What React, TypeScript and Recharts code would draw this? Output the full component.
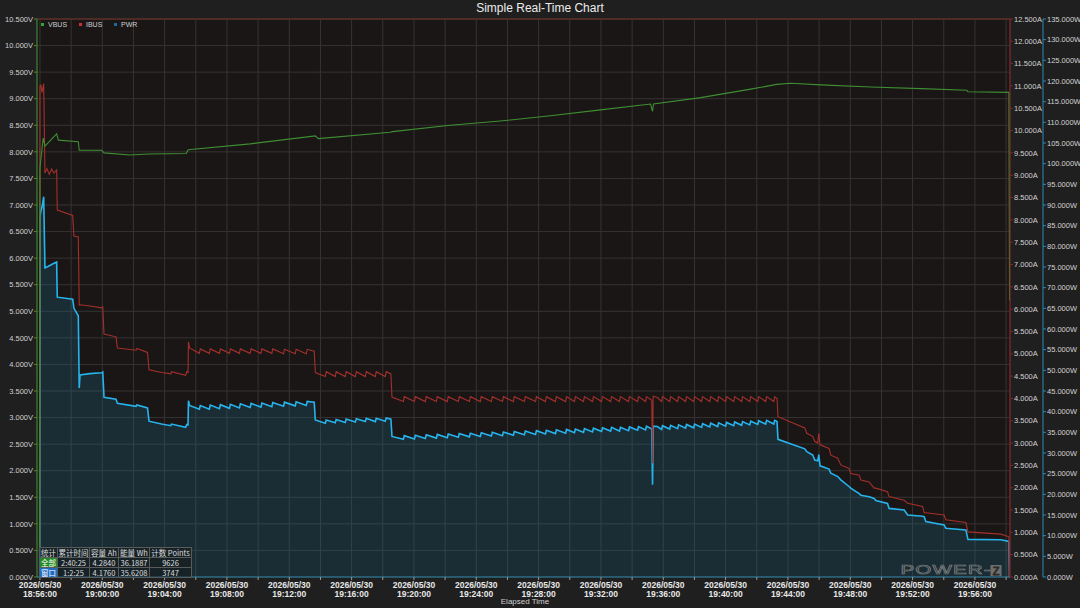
import { ComposedChart, Line, Area, XAxis, YAxis, CartesianGrid, ReferenceLine } from 'recharts';

// minutes after 2026/05/30 18:56:00
const vbusTimes = [
  -0.02, 0.0, 0.21, 0.32, 1.07, 1.18, 2.46, 2.52, 3.96, 4.11, 5.78, 6.94, 9.38, 9.51, 13.49, 17.67, 17.86, 22.48, 22.61,
  26.34, 29.55, 32.76, 35.97, 39.18, 39.31, 39.37, 42.4, 45.61, 47.28, 48.18, 50.11, 53.32, 56.53, 59.48, 59.55, 62.18, 62.22,
];
const vbus = [
  0, 7.7, 8.26, 8.11, 8.34, 8.22, 8.19, 8.03, 8.03, 7.98, 7.94, 7.96, 7.97, 8.04, 8.15, 8.3, 8.25, 8.37, 8.38,
  8.5, 8.58, 8.68, 8.79, 8.9, 8.76, 8.9, 9.02, 9.18, 9.27, 9.29, 9.26, 9.22, 9.19, 9.16, 9.13, 9.12, 5.2,
];

// IBUS and PWR are sampled together
const times = [
  // start burst
  -0.02, 0.0, 0.06, 0.13, 0.24, 0.32, 0.45, 0.6, 0.75, 0.9, 1.07, 1.11, 2.1, 2.18, 2.46, 2.52, 2.57, 3.2, 3.96, 4.03,
  4.11, 4.88, 4.97, 6.17, 6.22, 6.9, 7.0, 7.8, 8.4, 8.44, 9.35, 9.42, 9.5, 9.53, 9.6,
  // 19:05 - 19:13
  10.23, 10.29, 10.87, 10.93, 11.52, 11.58, 12.16, 12.22, 12.8, 12.86, 13.49, 13.55, 14.18, 14.24, 14.88, 14.94,
  15.63, 15.69, 16.38, 16.44, 17.09, 17.15, 17.6, 17.67,
  // 19:13 - 19:18
  18.31, 18.37, 18.95, 19.01, 19.59, 19.65, 20.24, 20.3, 20.88, 20.94, 21.52, 21.58, 22.16, 22.22, 22.52, 22.59,
  // 19:18 - 19:35
  23.32, 23.38, 24.03, 24.09, 24.73, 24.79, 25.44, 25.5, 26.14, 26.2, 26.85, 26.91, 27.56, 27.62, 28.26, 28.32,
  28.97, 29.03, 29.68, 29.74, 30.38, 30.44, 31.09, 31.15, 31.8, 31.86, 32.44, 32.5, 33.08, 33.14, 33.73, 33.79,
  34.3, 34.36, 34.88, 34.94, 35.46, 35.52, 36.04, 36.1, 36.62, 36.68, 37.19, 37.25, 37.77, 37.83, 38.35, 38.41,
  38.86, 38.92,
  // glitch
  39.26, 39.31, 39.35, 39.62,
  // 19:36 - 19:43
  39.89, 39.95, 40.41, 40.47, 40.92, 40.98, 41.43, 41.49, 41.95, 42.01, 42.46, 42.52, 42.98, 43.04, 43.49, 43.55,
  44.0, 44.06, 44.52, 44.58, 45.03, 45.09, 45.55, 45.61, 46.06, 46.12, 46.57, 46.63, 47.09, 47.15,
  // taper
  47.3, 47.36, 49.08, 49.21, 49.59, 49.72, 49.91, 49.98, 50.06, 50.64, 50.75, 51.2, 51.39, 51.92, 52.03, 52.57,
  52.68, 53.21, 53.53, 53.64, 54.39, 54.49, 55.46, 55.68, 56.64, 56.74, 56.85, 58.02, 58.13, 59.42, 59.55, 61.67,
  62.18, 62.22,
];
const ibus = [
  0, 11.0, 11.02, 10.85, 11.05, 9.05, 9.15, 9.02, 9.14, 9.05, 9.12, 8.22, 8.1, 7.64, 7.62, 6.09, 6.1, 6.07, 6.03, 6.05,
  5.44, 5.38, 5.13, 5.08, 5.12, 5.03, 4.64, 4.58, 4.55, 4.6, 4.52, 4.6, 4.58, 5.27, 5.13,
  5.01, 5.11, 5.01, 5.11, 5.01, 5.11, 5.01, 5.11, 5.01, 5.11, 5.01, 5.11, 5.01, 5.11, 5.01, 5.11,
  5.0, 5.1, 5.0, 5.1, 5.0, 5.1, 5.06, 4.58,
  4.49, 4.6, 4.49, 4.6, 4.49, 4.6, 4.49, 4.6, 4.49, 4.6, 4.49, 4.6, 4.49, 4.6, 4.55, 4.03,
  3.93, 4.04, 3.93, 4.04, 3.93, 4.04, 3.93, 4.04, 3.93, 4.04, 3.93, 4.04, 3.93, 4.04, 3.93, 4.04,
  3.93, 4.04, 3.93, 4.04, 3.93, 4.04, 3.93, 4.04, 3.93, 4.04, 3.93, 4.04, 3.93, 4.04, 3.93, 4.04,
  3.93, 4.04, 3.93, 4.04, 3.93, 4.04, 3.93, 4.04, 3.93, 4.04, 3.93, 4.04, 3.93, 4.04, 3.93, 4.04,
  3.93, 4.04,
  3.96, 2.55, 4.05, 4.02,
  3.93, 4.04, 3.93, 4.04, 3.93, 4.04, 3.93, 4.04, 3.93, 4.04, 3.93, 4.04, 3.93, 4.04, 3.93, 4.04,
  3.93, 4.04, 3.93, 4.04, 3.93, 4.04, 3.93, 4.04, 3.93, 4.04, 3.93, 4.04, 3.93, 4.04,
  4.0, 3.59, 3.34, 3.22, 3.15, 3.04, 3.0, 3.22, 2.96, 2.88, 2.73, 2.66, 2.51, 2.43, 2.32, 2.28,
  2.17, 2.13, 1.99, 1.99, 1.91, 1.8, 1.72, 1.65, 1.58, 1.44, 1.44, 1.39, 1.28, 1.22, 1.01, 0.96,
  0.9, 0,
];
const pwr = [
  0, 87.0, 88.5, 89.5, 92.0, 74.8, 75.0, 75.3, 75.6, 75.9, 76.2, 67.7, 67.2, 65.0, 63.2, 45.7, 48.9, 49.2, 49.4, 49.6,
  43.5, 43.0, 42.0, 41.3, 41.6, 40.9, 37.7, 37.0, 36.6, 37.0, 36.2, 36.9, 36.8, 42.65, 41.5,
  40.6, 41.5, 40.6, 41.6, 40.7, 41.7, 40.8, 41.8, 40.9, 41.9, 41.0, 42.0, 41.1, 42.1, 41.2, 42.2,
  41.3, 42.3, 41.4, 42.4, 41.5, 42.5, 42.3, 38.0,
  37.2, 38.0, 37.3, 38.1, 37.4, 38.2, 37.5, 38.3, 37.6, 38.4, 37.6, 38.4, 37.7, 38.5, 38.2, 34.0,
  33.3, 34.2, 33.4, 34.3, 33.5, 34.4, 33.6, 34.5, 33.7, 34.6, 33.8, 34.7, 33.9, 34.8, 34.0, 34.9,
  34.1, 35.0, 34.2, 35.1, 34.3, 35.2, 34.4, 35.3, 34.5, 35.4, 34.6, 35.5, 34.7, 35.6, 34.8, 35.7,
  34.9, 35.8, 35.0, 35.9, 35.1, 36.0, 35.2, 36.1, 35.3, 36.2, 35.3, 36.2, 35.4, 36.3, 35.5, 36.4,
  35.6, 36.5,
  35.8, 22.3, 36.5, 36.4,
  35.7, 36.6, 35.8, 36.7, 35.9, 36.8, 36.0, 36.9, 36.1, 37.0, 36.2, 37.1, 36.3, 37.2, 36.4, 37.3,
  36.5, 37.4, 36.6, 37.5, 36.7, 37.6, 36.8, 37.7, 36.9, 37.8, 37.0, 37.9, 37.0, 37.9,
  37.6, 33.3, 31.0, 30.3, 29.5, 28.3, 28.1, 29.6, 26.9, 26.1, 25.1, 24.3, 23.5, 21.9, 21.5, 20.2,
  19.8, 19.4, 19.0, 18.5, 17.8, 16.6, 16.2, 15.0, 14.7, 14.6, 13.4, 12.6, 11.8, 11.4, 9.1, 9.0,
  8.6, 0,
];

const xTicks = [0, 2, 4, 6, 8, 10, 12, 14, 16, 18, 20, 22, 24, 26, 28, 30, 32, 34, 36, 38, 40, 42, 44, 46, 48, 50, 52, 54, 56, 58, 60, 62];
const xTickLabels = [
  '18:56:00', '19:00:00', '19:04:00', '19:08:00', '19:12:00', '19:16:00', '19:20:00', '19:24:00',
  '19:28:00', '19:32:00', '19:36:00', '19:40:00', '19:44:00', '19:48:00', '19:52:00', '19:56:00',
];
const vTicks = [0, 0.5, 1, 1.5, 2, 2.5, 3, 3.5, 4, 4.5, 5, 5.5, 6, 6.5, 7, 7.5, 8, 8.5, 9, 9.5, 10, 10.5];
const aTicks = [0, 0.5, 1, 1.5, 2, 2.5, 3, 3.5, 4, 4.5, 5, 5.5, 6, 6.5, 7, 7.5, 8, 8.5, 9, 9.5, 10, 10.5, 11, 11.5, 12, 12.5];
const wTicks = [0, 5, 10, 15, 20, 25, 30, 35, 40, 45, 50, 55, 60, 65, 70, 75, 80, 85, 90, 95, 100, 105, 110, 115, 120, 125, 130, 135];

const statsHeader = ['统计', '累计时间', '容量 Ah', '能量 Wh', '计数 Points'];
const statsRows = [
  ['全部', '2:40:25', '4.2840', '36.1887', '9626'],
  ['窗口', '1:2:25', '4.1760', '35.6208', '3747'],
];

const rows = [
  ...times.map((t, i) => ({ t, ibus: ibus[i], pwr: pwr[i] })),
  ...vbusTimes.map((t, i) => ({ t, vbus: vbus[i] })),
].sort((a, b) => a.t - b.t);

const FONT = 'Arial, "Liberation Sans", sans-serif';
const GREEN = '#3f8e33';
const RED = '#a3302a';
const BLUE = '#27b3ec';
const tickText = { fill: '#d2d2d2', fontSize: 7.5, fontFamily: FONT };

function TimeTick(props: any) {
  const { x, y, payload } = props;
  const v = Math.round(payload.value);
  const label = v % 4 === 0 ? xTickLabels[v / 4] : undefined;
  if (!label) return <g />;
  return (
    <g fontFamily={FONT} fontSize={8.5} fontWeight="bold" fill="#e8e8e8" textAnchor="middle">
      <text x={x} y={y + 6}>2026/05/30</text>
      <text x={x} y={y + 15}>{label}</text>
    </g>
  );
}

function Legend() {
  const items = [
    { name: 'VBUS', color: '#34a534', x: 41 },
    { name: 'IBUS', color: '#cc3030', x: 79 },
    { name: 'PWR', color: '#1d6a9a', x: 114 },
  ];
  return (
    <>
      {items.map((it) => (
        <div key={it.name} style={{ position: 'absolute', left: it.x, top: 21, display: 'flex', alignItems: 'center', fontFamily: FONT, fontSize: 7, color: '#cfcfcf' }}>
          <span style={{ width: 3, height: 3, background: it.color, marginRight: 4 }} />
          {it.name}
        </div>
      ))}
    </>
  );
}

function StatsTable() {
  const widths = [17, 31, 28, 30, 41];
  const cell = { border: '1px solid #5a5a5a', padding: 0, height: 9, lineHeight: '9px', textAlign: 'center' as const, whiteSpace: 'nowrap' as const, overflow: 'hidden' };
  return (
    <table style={{ position: 'absolute', left: 39, top: 547, borderCollapse: 'collapse', fontFamily: '"Noto Sans CJK SC", Arial, sans-serif', fontSize: 7.5, color: '#dcdcdc', tableLayout: 'fixed', background: 'rgba(20,20,20,0.4)' }}>
      <tbody>
        <tr>
          {statsHeader.map((h, i) => (
            <td key={h} style={{ ...cell, width: widths[i] }}>{h}</td>
          ))}
        </tr>
        {statsRows.map((r, ri) => (
          <tr key={ri}>
            {r.map((c, ci) => (
              <td key={ci} style={{ ...cell, background: ci === 0 ? (ri === 0 ? '#238a23' : '#1f6cc4') : undefined, color: ci === 0 ? '#fff' : '#dcdcdc' }}>{c}</td>
            ))}
          </tr>
        ))}
      </tbody>
    </table>
  );
}

function Logo() {
  return (
    <svg width={110} height={16} style={{ position: 'absolute', left: 898, top: 562 }}>
      <text x={1.5} y={12.5} fontSize={12} fontFamily={FONT} fill="none" stroke="#858585" strokeWidth={0.55} transform="scale(1.72,1)" letterSpacing={0.6}>
        POWER-
      </text>
      <rect x={92.5} y={3} width={11} height={11} fill="#6e6e6e" />
      <text x={98} y={12.5} fontSize={11} fontFamily={FONT} fill="none" stroke="#2a2a2a" strokeWidth={0.8} textAnchor="middle">Z</text>
    </svg>
  );
}

export default function App() {
  return (
    <div style={{ position: 'fixed', left: 0, top: 0, width: 1080, height: 608, background: '#1f1f1f', overflow: 'hidden' }}>
      <div style={{ position: 'absolute', left: 0, top: 1, width: 1080, textAlign: 'center', fontFamily: FONT, fontSize: 12, color: '#ececec' }}>
        Simple Real-Time Chart
      </div>
      <ComposedChart width={1080} height={608} data={rows} margin={{ top: 19, right: 0, bottom: 0, left: 0 }}>
        <CartesianGrid yAxisId="v" stroke="#363333" fill="#1a1616" />
        <XAxis
          dataKey="t"
          type="number"
          domain={[-0.19, 62.25]}
          allowDataOverflow
          ticks={xTicks}
          interval={0}
          height={31}
          stroke="#2a85a8"
          tickSize={3}
          tickLine={{ stroke: '#9a9a9a' }}
          tick={<TimeTick />}
        />
        <YAxis
          yAxisId="v"
          orientation="left"
          width={37}
          domain={[0, 10.5]}
          ticks={vTicks}
          interval={0}
          stroke={GREEN}
          tickSize={3}
          tickMargin={1}
          tick={tickText}
          tickFormatter={(v: number) => v.toFixed(3) + 'V'}
        />
        <YAxis
          yAxisId="a"
          orientation="right"
          width={33}
          domain={[0, 12.5]}
          ticks={aTicks}
          interval={0}
          stroke="#8e2222"
          tickSize={3}
          tickMargin={1}
          tick={tickText}
          tickFormatter={(v: number) => v.toFixed(3) + 'A'}
        />
        <YAxis
          yAxisId="w"
          orientation="right"
          width={37}
          domain={[0, 135]}
          ticks={wTicks}
          interval={0}
          stroke="#2a8ab2"
          tickSize={3}
          tickMargin={1}
          tick={tickText}
          tickFormatter={(v: number) => v.toFixed(3) + 'W'}
        />
        <ReferenceLine yAxisId="v" y={10.5} stroke="#5c2c24" strokeWidth={1.5} />
        <Area
          yAxisId="w"
          dataKey="pwr"
          type="linear"
          stroke={BLUE}
          strokeWidth={1.6}
          fill="#1a7aa0"
          fillOpacity={0.22}
          connectNulls
          dot={false}
          activeDot={false}
          isAnimationActive={false}
        />
        <Line yAxisId="a" dataKey="ibus" type="linear" stroke={RED} strokeWidth={1.1} connectNulls dot={false} activeDot={false} isAnimationActive={false} />
        <Line yAxisId="v" dataKey="vbus" type="linear" stroke={GREEN} strokeWidth={1.1} connectNulls dot={false} activeDot={false} isAnimationActive={false} />
      </ComposedChart>
      <Legend />
      <StatsTable />
      <Logo />
      <div style={{ position: 'absolute', left: 0, top: 597, width: 1050, textAlign: 'center', fontFamily: FONT, fontSize: 8, color: '#cfcfcf' }}>
        Elapsed Time
      </div>
    </div>
  );
}
